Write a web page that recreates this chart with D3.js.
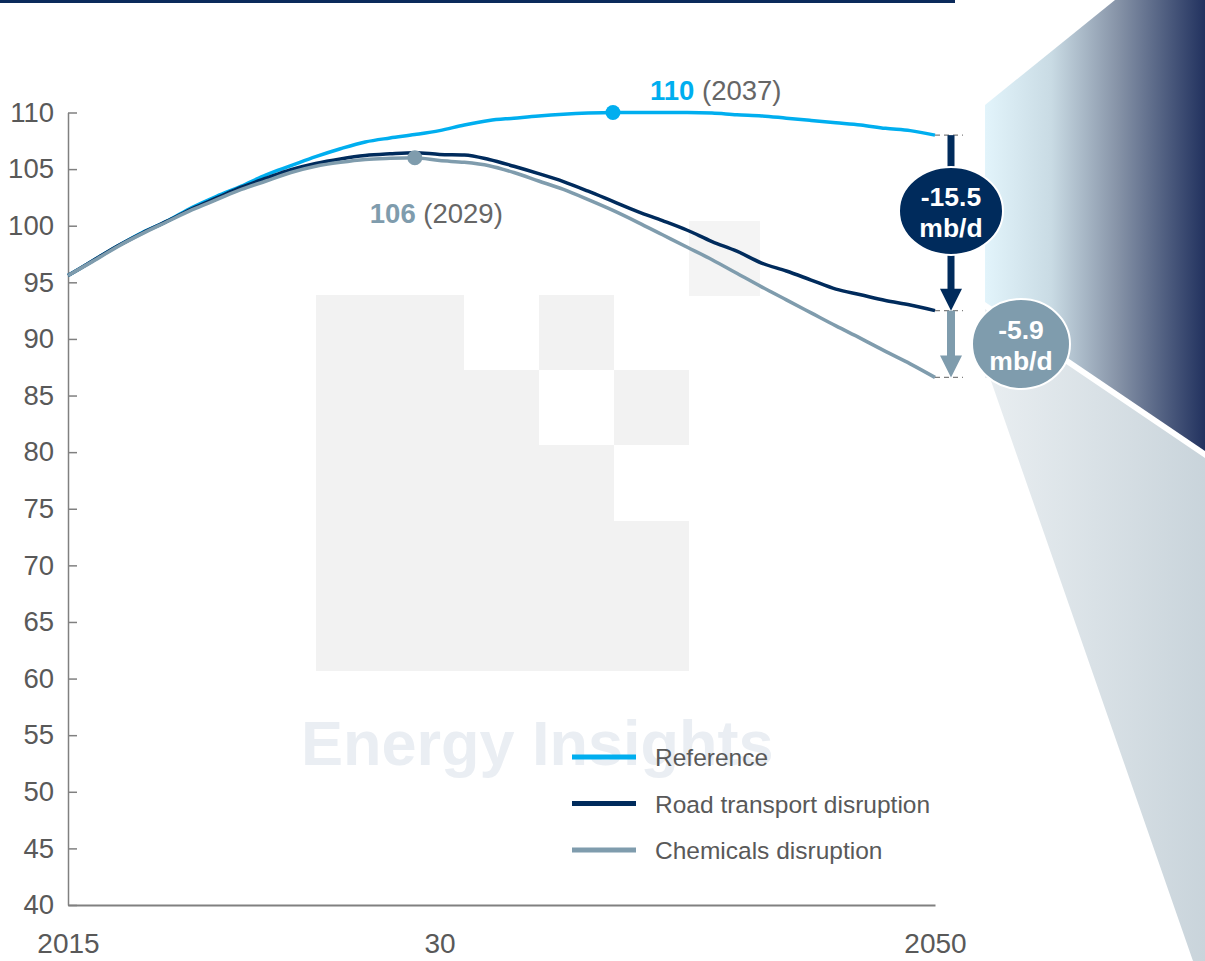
<!DOCTYPE html>
<html>
<head>
<meta charset="utf-8">
<script src="https://cdn.jsdelivr.net/npm/d3@7"></script>
<style>
  body { margin: 0; background: #fff; }
  svg { display: block; font-family: "Liberation Sans", Arial, sans-serif; }
</style>
</head>
<body>
<svg id="chart" width="1205" height="961"></svg>
<script>
// ---- Data: oil demand outlook, mb/d ----
const years = [2015, 2016, 2017, 2018, 2019, 2020, 2021, 2022, 2023, 2024,
               2025, 2026, 2027, 2028, 2029, 2030, 2031, 2032, 2033, 2034,
               2035, 2036, 2037, 2038, 2039, 2040, 2041, 2042, 2043, 2044,
               2045, 2046, 2047, 2048, 2049, 2050];

const reference = [95.6, 96.9, 98.2, 99.4, 100.4, 101.6, 102.6, 103.5, 104.5, 105.3,
                   106.1, 106.8, 107.4, 107.75, 108.05, 108.4, 108.9, 109.3, 109.5, 109.7,
                   109.85, 109.95, 110.0, 110.0, 110.0, 110.0, 109.95, 109.8, 109.7, 109.5,
                   109.3, 109.1, 108.9, 108.6, 108.4, 108.0];

const roadDisruption = [95.6, 96.9, 98.2, 99.35, 100.4, 101.5, 102.45, 103.4, 104.2, 104.95,
                        105.5, 105.9, 106.2, 106.35, 106.45, 106.3, 106.25, 105.85, 105.25, 104.6,
                        103.9, 103.05, 102.15, 101.25, 100.45, 99.6, 98.6, 97.75, 96.7, 96.0,
                        95.2, 94.4, 93.9, 93.4, 93.0, 92.5];

const chemicalsDisruption = [95.6, 96.85, 98.15, 99.3, 100.35, 101.4, 102.3, 103.2, 103.95, 104.7,
                             105.25, 105.6, 105.85, 105.95, 106.0, 105.75, 105.6, 105.3, 104.7, 103.95,
                             103.2, 102.3, 101.35, 100.3, 99.2, 98.1, 97.0, 95.8, 94.6, 93.45,
                             92.3, 91.15, 90.05, 88.9, 87.8, 86.6];

const seriesNames = ["Reference", "Road transport disruption", "Chemicals disruption"];
const seriesColors = ["#00AEEF", "#002B5C", "#7F9CAD"];

const yTickValues = [40, 45, 50, 55, 60, 65, 70, 75, 80, 85, 90, 95, 100, 105, 110];
const xTickValues = [2015, 2030, 2050];
const xTickLabels = ["2015", "30", "2050"];

// Peak call-outs: series index, year and value shown in the label
const peakSeries = [0, 2];
const peakYears = [2037, 2029];
const peakValues = [110, 106];

const unitLabel = "mb/d";

// ---- Layout ----
const svg = d3.select("#chart");
const x = d3.scaleLinear().domain([2015, 2050]).range([68, 935]);
const y = d3.scaleLinear().domain([40, 110]).range([905, 112.5]);

const allSeries = [reference, roadDisruption, chemicalsDisruption];

// ---- Decorative frame ----
const defs = svg.append("defs");
const gTop = defs.append("linearGradient").attr("id", "panelDark")
  .attr("gradientUnits", "userSpaceOnUse").attr("x1", 985).attr("x2", 1205).attr("y1", 0).attr("y2", 0);
[["0", "#E2F4FB"], ["0.3", "#C9DBE4"], ["0.6", "#8794A8"], ["1", "#22325F"]]
  .forEach(([o, c]) => gTop.append("stop").attr("offset", o).attr("stop-color", c));
const gLow = defs.append("linearGradient").attr("id", "panelLight")
  .attr("gradientUnits", "userSpaceOnUse").attr("x1", 985).attr("x2", 1205).attr("y1", 0).attr("y2", 0);
[["0", "#E9EEF1"], ["1", "#C9D4DB"]]
  .forEach(([o, c]) => gLow.append("stop").attr("offset", o).attr("stop-color", c));

svg.append("rect").attr("x", 0).attr("y", 0).attr("width", 955).attr("height", 3).attr("fill", "#0B2A5B");

svg.append("polygon")
  .attr("points", "1115,0 1205,0 1205,451 985,302 985,105")
  .attr("fill", "url(#panelDark)");
svg.append("polygon")
  .attr("points", "985,309 1205,458 1205,961 1193,961 990,378 985,378")
  .attr("fill", "url(#panelLight)");

// ---- Watermark ----
const wm = svg.append("g").attr("class", "watermark");
const wmBlocks = [
  [316, 295, 148, 376], [464, 370, 75, 301], [539, 295, 75, 75], [539, 445, 75, 226],
  [614, 370, 75, 75], [614, 521, 75, 150]
];
wm.selectAll("rect.blk").data(wmBlocks).join("rect").attr("class", "blk")
  .attr("x", d => d[0]).attr("y", d => d[1]).attr("width", d => d[2]).attr("height", d => d[3])
  .attr("fill", "#F2F2F2");
wm.append("rect").attr("x", 689).attr("y", 221).attr("width", 71).attr("height", 75).attr("fill", "#F4F4F4");
wm.append("text").attr("x", 301).attr("y", 765)
  .attr("font-size", 63).attr("font-weight", "bold").attr("fill", "#EAEEF3")
  .text("Energy Insights");

// ---- Axes ----
const yAxis = svg.append("g").attr("transform", "translate(68,0)")
  .call(d3.axisLeft(y).tickValues(yTickValues).tickSizeInner(-9).tickSizeOuter(0).tickPadding(14));
yAxis.select(".domain").attr("stroke", "#808080").attr("stroke-width", 1.5);
yAxis.selectAll(".tick line").attr("stroke", "#808080").attr("stroke-width", 1.5);
yAxis.selectAll(".tick text").attr("font-size", 27.5).attr("fill", "#595959")
  .attr("font-family", "Liberation Sans, Arial, sans-serif");

const xAxis = svg.append("g").attr("transform", "translate(0,905)")
  .call(d3.axisBottom(x).tickValues(xTickValues).tickFormat((d, i) => xTickLabels[i])
    .tickSize(0).tickPadding(28));
xAxis.select(".domain").attr("stroke", "#808080").attr("stroke-width", 2);
xAxis.selectAll(".tick text").attr("font-size", 28).attr("fill", "#595959")
  .attr("font-family", "Liberation Sans, Arial, sans-serif");

// ---- Lines ----
const line = d3.line().x((d, i) => x(years[i])).y(d => y(d)).curve(d3.curveMonotoneX);
svg.append("g").selectAll("path.series").data(allSeries).join("path")
  .attr("class", "series")
  .attr("d", d => line(d))
  .attr("fill", "none")
  .attr("stroke", (d, i) => seriesColors[i])
  .attr("stroke-width", 3.5)
  .attr("stroke-linejoin", "round");

// ---- Peak markers and labels ----
const labelOffsets = [[37, -13], [-45, 65]];
peakSeries.forEach((s, k) => {
  const px = x(peakYears[k]), py = y(peakValues[k]);
  svg.append("circle").attr("cx", px).attr("cy", py).attr("r", 7.5).attr("fill", seriesColors[s]);
  const t = svg.append("text").attr("x", px + labelOffsets[k][0]).attr("y", py + labelOffsets[k][1])
    .attr("font-size", 27.5);
  t.append("tspan").attr("font-weight", "bold").attr("fill", seriesColors[s]).text(peakValues[k]);
  t.append("tspan").attr("fill", "#666666").text(" (" + peakYears[k] + ")");
});

// ---- 2050 gap arrows ----
const last = years.length - 1;
const endVals = allSeries.map(s => s[last]);
const ax = x(2050) + 16;

svg.append("g").selectAll("line.endmark").data(endVals).join("line")
  .attr("x1", x(2050)).attr("x2", x(2050) + 28)
  .attr("y1", d => y(d)).attr("y2", d => y(d))
  .attr("stroke", "#7F7F7F").attr("stroke-width", 1.3).attr("stroke-dasharray", "5,4");

function gapArrow(v0, v1, color, shaftW) {
  const y0 = y(v0), y1 = y(v1), head = 22;
  svg.append("rect").attr("x", ax - shaftW / 2).attr("y", y0)
    .attr("width", shaftW).attr("height", y1 - head - y0 + 1).attr("fill", color);
  svg.append("polygon")
    .attr("points", `${ax - 11},${y1 - head} ${ax + 11},${y1 - head} ${ax},${y1}`)
    .attr("fill", color);
}
function gapBadge(cx, cy, rx, ry, color, value) {
  svg.append("ellipse").attr("cx", cx).attr("cy", cy).attr("rx", rx).attr("ry", ry)
    .attr("fill", color).attr("stroke", "#ffffff").attr("stroke-width", 2);
  const t = svg.append("text").attr("text-anchor", "middle").attr("fill", "#ffffff")
    .attr("font-weight", "bold").attr("font-size", 26.5);
  t.append("tspan").attr("x", cx).attr("y", cy - 5).text("-" + d3.format(".1f")(value));
  t.append("tspan").attr("x", cx).attr("y", cy + 26).text(unitLabel);
}

const gapRoad = endVals[0] - endVals[1];
const gapChem = endVals[1] - endVals[2];
gapArrow(endVals[0], endVals[1], seriesColors[1], 7);
gapArrow(endVals[1], endVals[2], seriesColors[2], 8);
gapBadge(ax, (y(endVals[0]) + y(endVals[1])) / 2 - 12, 52, 44, seriesColors[1], gapRoad);
gapBadge(ax + 70, (y(endVals[1]) + y(endVals[2])) / 2, 49, 45, seriesColors[2], gapChem);

// ---- Legend ----
const legend = svg.append("g").attr("transform", "translate(572,757)");
const lg = legend.selectAll("g").data(seriesNames).join("g")
  .attr("transform", (d, i) => `translate(0,${i * 46.5})`);
lg.append("line").attr("x1", 0).attr("x2", 64).attr("y1", 0).attr("y2", 0)
  .attr("stroke", (d, i) => seriesColors[i]).attr("stroke-width", 5);
lg.append("text").attr("x", 83).attr("y", 9).attr("font-size", 24.5).attr("fill", "#595959")
  .text(d => d);
</script>
</body>
</html>
